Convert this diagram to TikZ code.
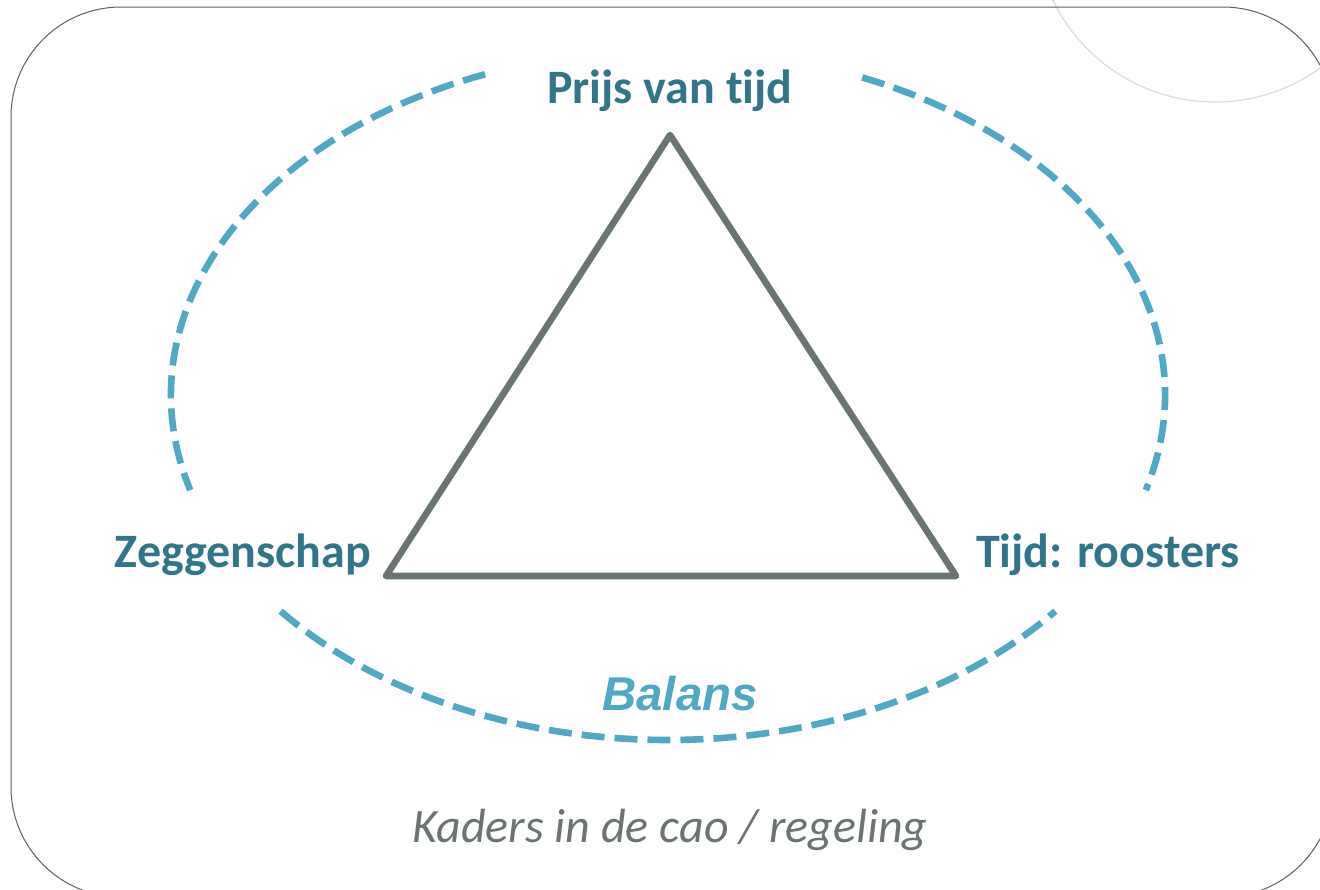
\documentclass[tikz,border=0pt]{standalone}
\usetikzlibrary{calc}
\usepackage{fontspec}
\setmainfont{Carlito}[RawFeature={-liga;-clig;-calt;-dlig}]
\newfontfamily\arialf{Liberation Sans}
\definecolor{teal}{HTML}{31758B}
\definecolor{lblue}{HTML}{4FA8C4}
\definecolor{tgray}{HTML}{6A7470}
\definecolor{bordergray}{HTML}{5A5E68}
\definecolor{circgray}{HTML}{D8DCDC}
\tikzset{
  corner/.style={font=\bfseries\fontsize{24}{28}\selectfont, text=teal, inner sep=0pt, anchor=base},
  dasharc/.style={draw=lblue, line width=3.3pt, dash pattern=on 11.5pt off 5pt},
}
\begin{document}
\begin{tikzpicture}[x=0.5pt,y=-0.5pt]
\useasboundingbox (0,0) rectangle (1320,889);
\begin{scope}
\clip (0,0) rectangle (1320,889);
\draw[circgray, line width=0.6pt] (1215,-78) circle[radius=180];
\draw[bordergray, line width=0.5pt, rounded corners=55pt] (11,7) rectangle (1333,897);
\end{scope}
% dashed ellipse arcs
\coordinate (c) at (668,395);
\draw[dasharc] ($(c)+(67:497 and -345)$) arc[start angle=67, end angle=-16, x radius=248.5pt, y radius=172.5pt];
\draw[dasharc] ($(c)+(111.6:497 and -345)$) arc[start angle=111.6, end angle=196, x radius=248.5pt, y radius=172.5pt];
\draw[dasharc] ($(c)+(218.8:497 and -345)$) arc[start angle=218.8, end angle=321.2, x radius=248.5pt, y radius=172.5pt];
% triangle
\coordinate (top) at (670,135);
\coordinate (bl) at (386,576);
\coordinate (br) at (956,576);
\draw[tgray, line width=3.3pt, line join=round] (top) -- (br) -- (bl) -- cycle;
% labels
\node[corner] (prijs) at (670,103) {Prijs van t\kern0pt ijd};
\node[corner] (zeg) at (243,567) {Zeggenschap};
\node[corner] (tijd) at (1108,567) {Tijd: roosters};
\node[font=\arialf\bfseries\itshape\fontsize{23.7}{28}\selectfont, text=lblue, inner sep=0pt, anchor=base] (balans) at (680,710) {Balans};
\node[font=\itshape\fontsize{24}{28}\selectfont, text=tgray, inner sep=0pt, anchor=base] (kaders) at (670,842) {Kaders in de cao / regeling};
\end{tikzpicture}
\end{document}
